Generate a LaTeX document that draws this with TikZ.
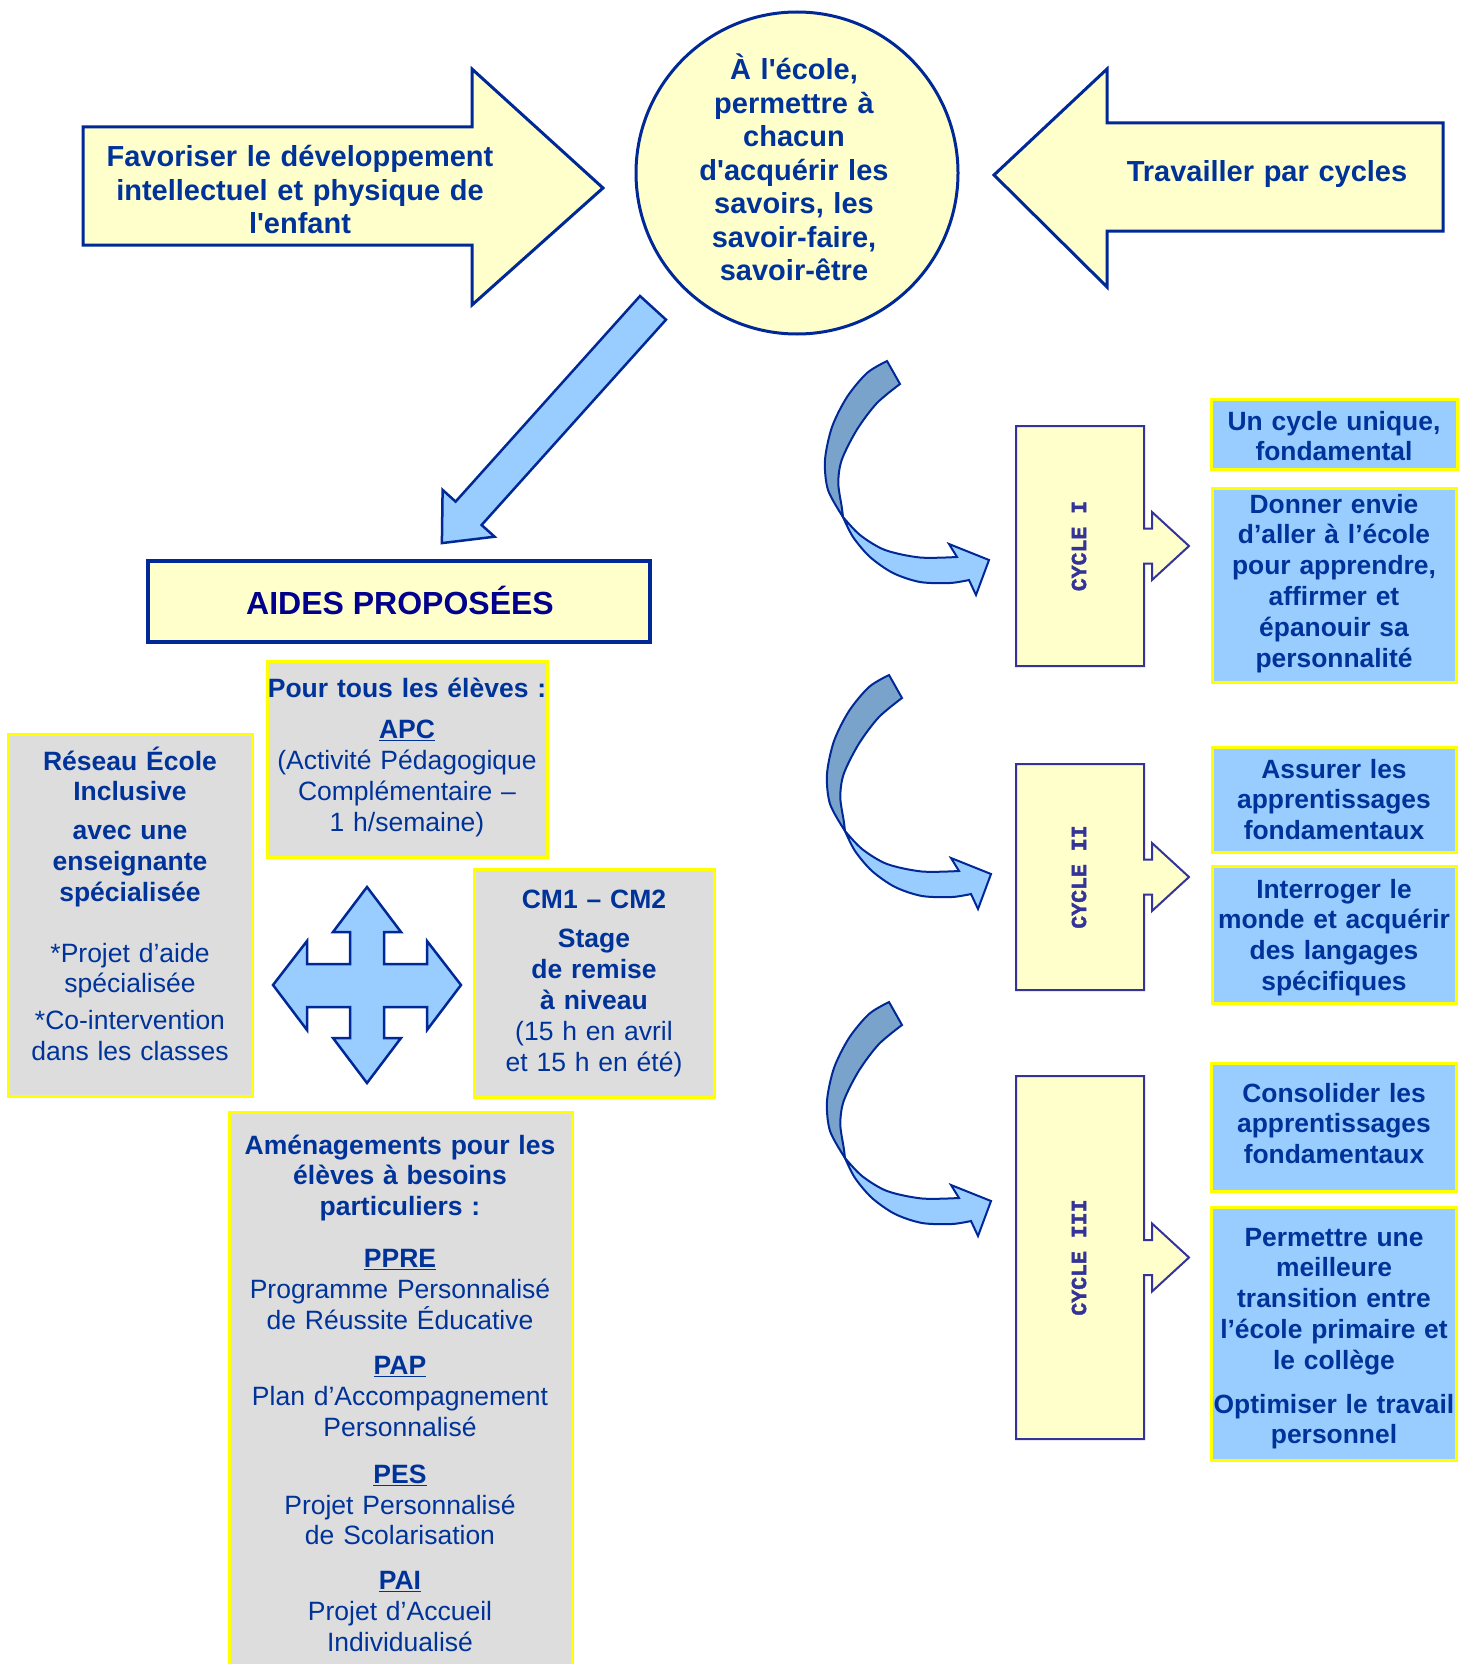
\documentclass[tikz,border=0pt]{standalone}
\usepackage{fontspec}
\setmainfont{Liberation Sans}
\newfontfamily\cyclefont[FakeBold=2]{Liberation Mono}
\usetikzlibrary{positioning}

\begin{document}
\begin{tikzpicture}[x=1pt, y=-1pt,
	yellowshape/.style={fill=lightyellow, draw=navyline, line width=3pt, line join=miter},
	greybox/.style={fill=boxgrey, draw=boxyellow, line width=3pt},
	bluebox/.style={fill=boxblue, draw=boxyellow, line width=3pt},
	cyclebox/.style={fill=lightyellow, draw=cycleline, line width=2pt},
	bluearrow/.style={fill=boxblue, draw=navyline, line width=2.5pt, line join=miter},
	backcurve/.style={fill=darkcurve, draw=navyline, line width=2pt},
	frontcurve/.style={fill=boxblue, draw=navyline, line width=2pt},
	bigtext/.style={font=\bfseries\fontsize{29}{33.5}\selectfont, text=textblue, align=center, text width=#1, anchor=base, inner sep=0pt},
	boxtext/.style={font=\fontsize{26.5}{30.8}\selectfont, text=textblue, align=center, text width=#1, anchor=base, inner sep=0pt},
	bluetext/.style={font=\bfseries\fontsize{26.4}{30.8}\selectfont, text=textblue, align=center, text width=#1, anchor=base, inner sep=0pt},
	cyclelabel/.style={font=\cyclefont\bfseries\fontsize{21.5}{24}\selectfont, text=cycleline, rotate=90, inner sep=0pt}]
	% Colours
	\definecolor{lightyellow}{RGB}{255,255,204}
	\definecolor{boxblue}{RGB}{153,204,255}
	\definecolor{boxgrey}{RGB}{221,221,221}
	\definecolor{boxyellow}{RGB}{255,255,0}
	\definecolor{navyline}{RGB}{0,40,150}
	\definecolor{textblue}{RGB}{0,51,153}
	\definecolor{titleblue}{RGB}{0,0,140}
	\definecolor{cycleline}{RGB}{51,51,153}
	\definecolor{darkcurve}{RGB}{122,163,204}
	
	\useasboundingbox (0,0) rectangle (1475,1664);
	\clip (0,0) rectangle (1475,1664);
	
	% Top row: two big arrows and the circle
	\filldraw[yellowshape] (83,127) -- (472,127) -- (472,69) -- (603,188) -- (472,305) -- (472,245) -- (83,245) -- cycle;
	\node[bigtext=420] (develop) at (300,167) {Favoriser le développement\\intellectuel et physique de\\l\textquotesingle enfant};
	
	\node[circle, minimum size=322pt, fill=lightyellow, draw=navyline, line width=3pt] (ecole) at (797,173) {};
	\node[bigtext=260] (ecoletxt) at (794,80) {À l\textquotesingle école,\\permettre à\\chacun\\d\textquotesingle acquérir les\\savoirs, les\\savoir-faire,\\savoir-être};
	
	\filldraw[yellowshape] (1443,123) -- (1107,123) -- (1107,69) -- (994,175) -- (1107,287) -- (1107,231) -- (1443,231) -- cycle;
	\node[bigtext=330] (cycles) at (1267,182) {Travailler par cycles};
	
	% Arrow down to the aids
	\filldraw[bluearrow] (640,296) -- (455.6,501.6) -- (442.6,489.9) -- (441.9,543.1) -- (494.6,536.7) -- (481.6,525) -- (666,319.7) -- cycle;
	
	% Aids
	\filldraw[fill=lightyellow, draw=navyline, line width=3.5pt] (148,561) rectangle (650,642);
	\node[font=\bfseries\fontsize{32}{38}\selectfont, text=titleblue, anchor=base, inner sep=0pt] (aides) at (400,614) {AIDES PROPOSÉES};
	
	\filldraw[greybox] (267,661) rectangle (547,857);
	\node[boxtext=300] (apc) at (407,697) {\textbf{Pour tous les élèves :}\\[11pt]\textbf{\underline{APC}}\\(Activité Pédagogique\\Complémentaire –\\1 h/semaine)};
	
	\filldraw[greybox] (8,734) rectangle (252,1096);
	\node[boxtext=250] (reseau) at (130,770) {\textbf{Réseau École}\\\textbf{Inclusive}\\[8pt]\textbf{avec une}\\\textbf{enseignante}\\\textbf{spécialisée}\\[30pt]*Projet d’aide\\spécialisée\\[6pt]*Co-intervention\\dans les classes};
	
	\filldraw[greybox] (474,869) rectangle (714,1097);
	\node[boxtext=250] (stage) at (594,908) {\textbf{CM1 – CM2}\\[9pt]\textbf{Stage}\\\textbf{de remise}\\\textbf{à niveau}\\(15 h en avril\\et 15 h en été)};
	
	\filldraw[greybox] (229,1112) rectangle (572,1700);
	\node[boxtext=350] (amenag) at (400,1154) {\textbf{Aménagements pour les}\\\textbf{élèves à besoins}\\\textbf{particuliers :}\\[21pt]\textbf{\underline{PPRE}}\\Programme Personnalisé\\de Réussite Éducative\\[15pt]\textbf{\underline{PAP}}\\Plan d’Accompagnement\\Personnalisé\\[16pt]\textbf{\underline{PES}}\\Projet Personnalisé\\de Scolarisation\\[14pt]\textbf{\underline{PAI}}\\Projet d’Accueil\\Individualisé};
	
	% Four-way arrow
	\filldraw[bluearrow] (367,887) -- (401,932) -- (384,932) -- (384,964) -- (427,964) -- (427,941) -- (461,985)
		-- (427,1030) -- (427,1007) -- (384,1007) -- (384,1038) -- (401,1038) -- (367,1083) -- (333,1038)
		-- (350,1038) -- (350,1007) -- (307,1007) -- (307,1030) -- (273,985) -- (307,941) -- (307,964)
		-- (350,964) -- (350,932) -- (333,932) -- cycle;
	
	% Curved arrows
	\foreach \dx/\dy in {0/0, 2/314, 2/641}{
		\begin{scope}[shift={(\dx,\dy)}]
			\filldraw[backcurve] plot[smooth] coordinates {(887,361) (867,373) (847,397) (832,427) (825,460) (828,490) (843,517)}
				-- plot[smooth] coordinates {(843,517) (841.7,506.7) (838.3,483) (841.7,460) (856.7,430) (876.7,403.3) (900,384)} -- cycle;
			\filldraw[frontcurve] plot[smooth] coordinates {(843,517) (860,535) (885,550) (920,557.5) (957,557)}
				-- (949,544) -- (989,560) -- (976,595) -- (969,580)
				-- plot[smooth] coordinates {(969,580) (950,583) (920,582) (893,573) (870,557) (853,537) (843,517)} -- cycle;
		\end{scope}
	}
	
	% Cycle boxes
	\foreach \ya/\yb/\lab/\nm in {426/666/I/cycA, 764/990/II/cycB, 1076/1439/III/cycC}{
		\pgfmathsetmacro\ymid{(\ya+\yb)/2}
		\filldraw[cyclebox] (1016,\ya) -- (1144,\ya) -- (1144,{\ymid-17.5}) -- (1152,{\ymid-17.5}) -- (1152,{\ymid-34})
			-- (1189,\ymid) -- (1152,{\ymid+34}) -- (1152,{\ymid+17.5}) -- (1144,{\ymid+17.5}) -- (1144,\yb) -- (1016,\yb) -- cycle;
		\node[cyclelabel] (\nm) at (1079,\ymid) {CYCLE \lab};
	}
	
	% Goals of each cycle
	\filldraw[bluebox] (1211,399) rectangle (1457,469);
	\node[bluetext=260] (unique) at (1334,430) {Un cycle unique,\\fondamental};
	\filldraw[bluebox] (1212,488) rectangle (1456,682);
	\node[bluetext=260] (envie) at (1334,513) {Donner envie\\d’aller à l’école\\pour apprendre,\\affirmer et\\épanouir sa\\personnalité};
	\filldraw[bluebox] (1212,747) rectangle (1456,852);
	\node[bluetext=260] (assurer) at (1334,778) {Assurer les\\apprentissages\\fondamentaux};
	\filldraw[bluebox] (1212,866) rectangle (1456,1003);
	\node[bluetext=260] (interroger) at (1334,898) {Interroger le\\monde et acquérir\\des langages\\spécifiques};
	\filldraw[bluebox] (1211,1063) rectangle (1456,1191);
	\node[bluetext=260] (consolider) at (1334,1102) {Consolider les\\apprentissages\\fondamentaux};
	\filldraw[bluebox] (1211,1207) rectangle (1456,1460);
	\node[bluetext=260] (transition) at (1334,1246) {Permettre une\\meilleure\\transition entre\\l’école primaire et\\le collège\\[13pt]Optimiser le travail\\personnel};
\end{tikzpicture}
\end{document}
